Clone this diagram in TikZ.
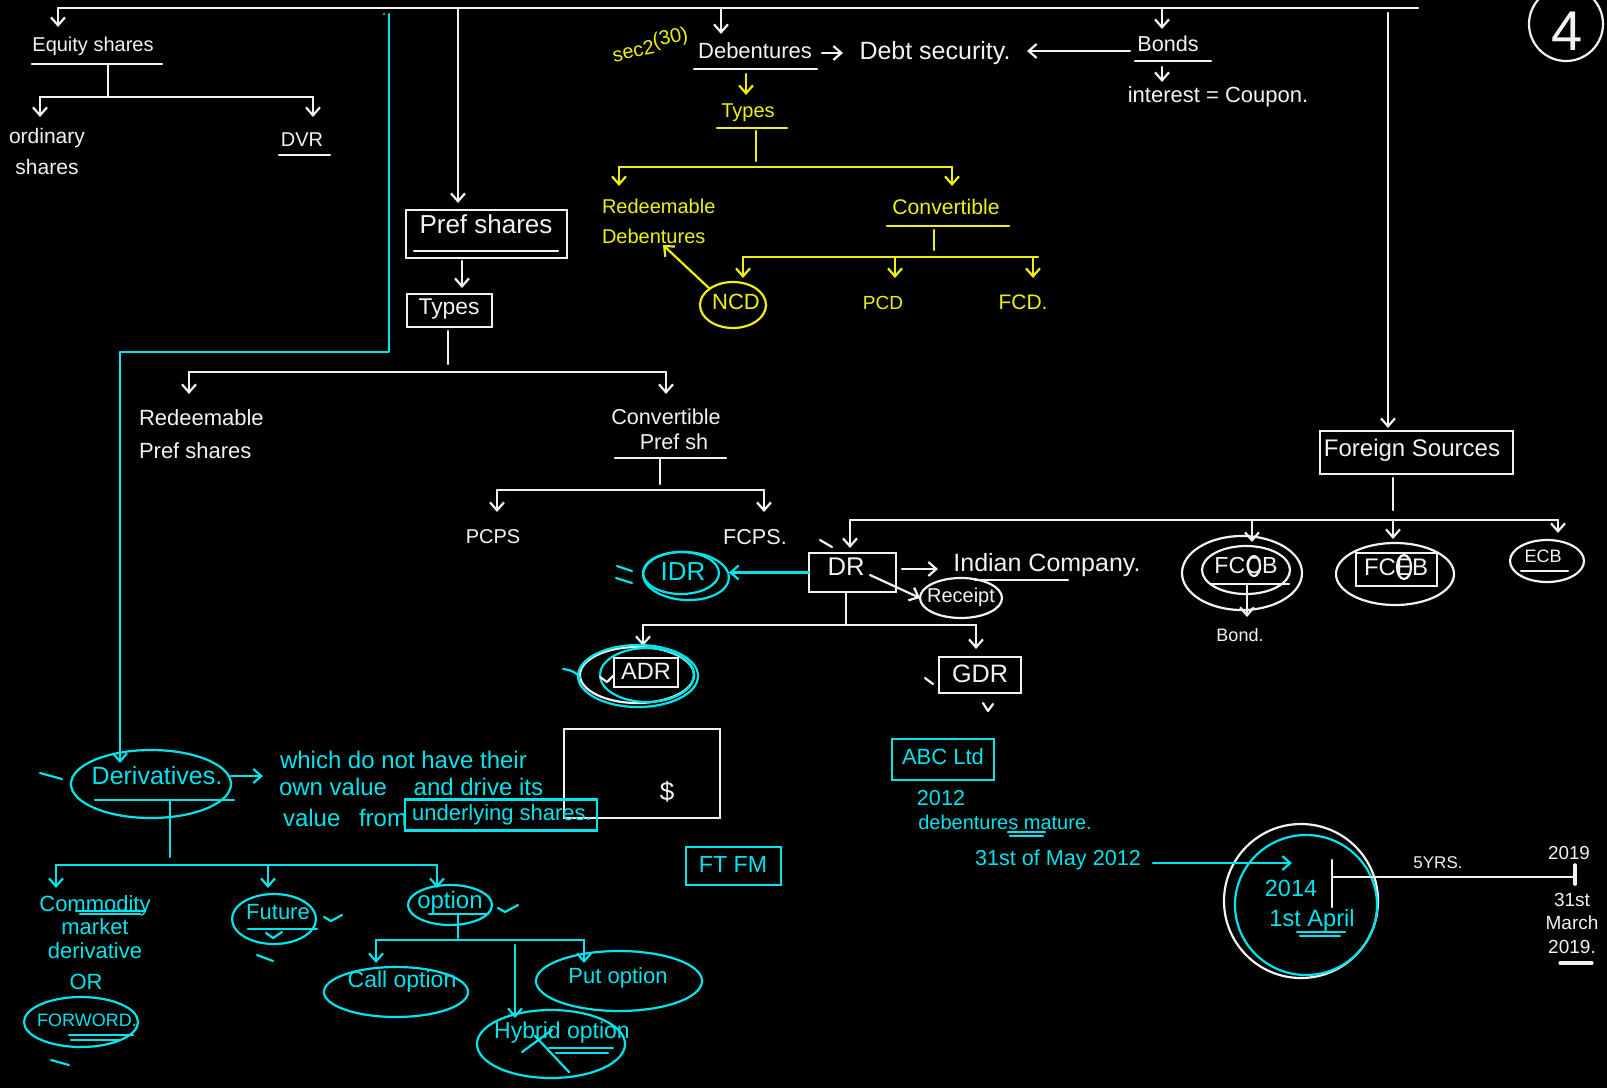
\documentclass[tikz,border=0pt]{standalone}
\usepackage{fontspec}
\setmainfont{Liberation Sans}
\usetikzlibrary{arrows.meta,shapes.geometric,calc}
\definecolor{inkw}{RGB}{242,242,242}
\definecolor{inkc}{RGB}{0,228,236}
\definecolor{inky}{RGB}{240,240,16}
\begin{document}
\begin{tikzpicture}[x=0.5pt,y=-0.5pt,
  every node/.style={inner sep=0pt,outer sep=0pt},
  ln/.style={line width=1.1pt,line cap=round,line join=round},
  wl/.style={ln,draw=inkw}, cl/.style={ln,draw=inkc}, yl/.style={ln,draw=inky},
  arr/.style={-{Straight Barb[length=4pt,width=7pt]}},
  fs/.style={font=\fontsize{#1}{#1}\selectfont},
  wt/.style={text=inkw}, ct/.style={text=inkc}, yt/.style={text=inky},
  wbx/.style={rectangle,draw=inkw,line width=1.1pt},
  cbx/.style={rectangle,draw=inkc,line width=1.1pt},
  wov/.style={ellipse,draw=inkw,line width=1.1pt},
  cov/.style={ellipse,draw=inkc,line width=1.1pt},
  yov/.style={ellipse,draw=inky,line width=1.1pt}]
\useasboundingbox (0,0) rectangle (1607,1088);
\clip (0,0) rectangle (1607,1088);
\fill[black] (0,0) rectangle (1607,1088);

% ---------- main rail ----------
\coordinate (railL) at (58,8);
\coordinate (railR) at (1418,8);
\draw[wl] (railL) -- (railR);

% ---------- equity shares ----------
\node[wt,fs=10] (eq) at (93,46) {Equity shares};
\draw[wl,arr] (railL) -- (58,27);
\draw[wl] (32,64) -- (162,64);
\coordinate (eqbarL) at (40,97); \coordinate (eqbarR) at (313,97);
\draw[wl] (108,64) -- (108,97);
\draw[wl] (eqbarL) -- (eqbarR);
\node[wt,font=\fontsize{10.5}{15.5}\selectfont,align=center] (ord) at (47,151) {ordinary\\shares};
\node[wt,fs=10] (dvr) at (302,140) {DVR};
\draw[wl,arr] (eqbarL) -- (40,117);
\draw[wl,arr] (eqbarR) -- (313,117);
\draw[wl] (279,155) -- (330,155);

% ---------- preference shares ----------
\draw[wl,arr] (458,8) -- (458,203);
\node[wbx,minimum width=80.5pt,minimum height=24pt] (prefbox) at (486.5,234) {};
\node[wt,fs=13] (pref) at (486,224) {Pref shares};
\draw[wl] (414,251) -- (558,251);
\node[wbx,minimum width=42.5pt,minimum height=16.5pt] (ptypes) at (449.5,310.5) {};
\node[wt,fs=11.4] (ptypestx) at (449,309) {Types};
\draw[wl,arr] (462,261) -- (462,288);
\coordinate (pbarL) at (189,372); \coordinate (pbarR) at (666,372);
\draw[wl] (448,331) -- (448,364);
\draw[wl] (pbarL) -- (pbarR);
\draw[wl,arr] (pbarL) -- (189,394);
\draw[wl,arr] (pbarR) -- (666,394);
\node[wt,font=\fontsize{11}{16.5}\selectfont,align=left,anchor=west] (rps) at (139,434) {Redeemable\\Pref shares};
\node[wt,font=\fontsize{10.8}{12.5}\selectfont,align=center] (cps) at (666,429) {Convertible\\\hspace*{8pt}Pref sh};
\draw[wl] (615,458) -- (726,458);
\coordinate (cbarL) at (497,490); \coordinate (cbarR) at (764,490);
\draw[wl] (660,458) -- (660,484);
\draw[wl] (cbarL) -- (cbarR);
\draw[wl,arr] (cbarL) -- (497,512);
\draw[wl,arr] (cbarR) -- (764,512);
\node[wt,fs=10] (pcps) at (493,537) {PCPS};
\node[wt,fs=10.8] (fcps) at (755,537) {FCPS.};
\draw[wl] (820,540) -- (832,547);

% ---------- debentures ----------
\node[wt,fs=11] (deb) at (755,51) {Debentures};
\draw[wl] (694,69) -- (817,69);
\draw[wl,arr] (721,8) -- (721,34);
\node[wt,fs=12.5] (debt) at (935,53) {Debt security.};
\draw[wl,arr] (822,53) -- (843,53);
\node[wt,fs=10.8] (bonds) at (1168,44) {Bonds};
\draw[wl] (1135,61) -- (1211,61);
\draw[wl,arr] (1162,8) -- (1162,29);
\draw[wl,arr] (1130,51) -- (1027,51);
\draw[wl,arr] (1162,67) -- (1162,82);
\node[wt,fs=11] (coupon) at (1218,97) {interest = Coupon.};

\node[yt,fs=10,rotate=12] (sec) at (650,44) {sec2\raisebox{3pt}{(30)}};
\draw[yl,arr] (746,74) -- (746,95);
\node[yt,fs=10] (dtypes) at (748,113) {Types};
\draw[yl] (717,128) -- (787,128);
\coordinate (dbarL) at (619,167); \coordinate (dbarR) at (952,167);
\draw[yl] (756,131) -- (756,161);
\draw[yl] (dbarL) -- (dbarR);
\draw[yl,arr] (dbarL) -- (619,186);
\draw[yl,arr] (dbarR) -- (952,186);
\node[yt,font=\fontsize{10}{15}\selectfont,align=left,anchor=west] (rdeb) at (602,221) {Redeemable\\Debentures};
\node[yt,fs=10.6] (conv) at (946,207) {Convertible};
\draw[yl] (887,226) -- (1009,226);
\coordinate (vbarL) at (743,257); \coordinate (vbarR) at (1038,257);
\draw[yl] (934,230) -- (934,250);
\draw[yl] (vbarL) -- (vbarR);
\draw[yl,arr] (vbarL) -- (743,278);
\draw[yl,arr] (895,257) -- (895,278);
\draw[yl,arr] (1033,257) -- (1033,278);
\node[yov,minimum width=33pt,minimum height=23pt] (ncdov) at (733,305) {};
\node[yt,fs=11] (ncd) at (736,302) {NCD};
\draw[yl,arr] (ncdov.north west) -- (663,245);
\node[yt,fs=9.5] (pcd) at (883,303) {PCD};
\node[yt,fs=10.5] (fcd) at (1023,302) {FCD.};

% ---------- foreign sources ----------
\draw[wl,arr] (1388,13) -- (1388,428);
\node[wbx,minimum width=96.5pt,minimum height=21.5pt] (forbox) at (1416.5,452.5) {};
\node[wt,fs=12] (foreign) at (1412,450) {Foreign Sources};
\coordinate (fbarL) at (850,520); \coordinate (fbarR) at (1558,520);
\draw[wl] (1393,478) -- (1393,510);
\draw[wl] (fbarL) -- (fbarR);
\draw[wl,arr] (fbarL) -- (850,548);
\draw[wl,arr] (1252,520) -- (1252,542);
\draw[wl,arr] (1393,520) -- (1393,539);
\draw[wl,arr] (fbarR) -- (1558,533);

\node[wov,minimum width=60pt,minimum height=37pt] (fccbout) at (1242,573) {};
\node[wov,minimum width=44pt,minimum height=24pt] (fccbin) at (1246,570) {};
\node[wt,fs=11.6] (fccb) at (1246,566) {FCCB};
\node[wov,minimum width=6pt,minimum height=10pt] (fccbc) at (1254,566) {};
\draw[wl] (1211,584) -- (1289,584);
\draw[wl,arr] (1247,584) -- (1247,617);
\node[wt,fs=9] (bond) at (1240,635) {Bond.};

\node[wov,minimum width=59pt,minimum height=31pt] (fcebout) at (1395,574) {};
\node[wbx,minimum width=40.5pt,minimum height=16.5pt] (fcebbox) at (1396.5,569.5) {};
\node[wt,fs=12] (fceb) at (1396,567) {FCEB};
\node[wov,minimum width=7pt,minimum height=12pt] (fcebe) at (1404,567) {};

\node[wov,minimum width=37pt,minimum height=21pt] (ecbov) at (1547,561) {};
\node[wt,fs=9] (ecb) at (1543,556) {ECB};
\draw[wl] (1521,571) -- (1568,571);

% ---------- depository receipts ----------
\node[wbx,minimum width=43.5pt,minimum height=19.5pt] (drbox) at (852.5,572.5) {};
\node[wt,fs=12.8] (dr) at (846,567) {DR};
\draw[wl,arr] (902,569) -- (938,569);
\node[wt,fs=12.5] (indian) at (1047,565) {Indian Company.};
\draw[wl] (975,580) -- (1068,580);
\node[wov,minimum width=41pt,minimum height=20pt] (recov) at (961,598) {};
\node[wt,fs=10] (receipt) at (961,597) {Receipt};
\draw[wl,arr] (870,575) -- (recov.west);
\coordinate (rbarL) at (643,625); \coordinate (rbarR) at (976,625);
\draw[wl] (846,592) -- (846,624);
\draw[wl] (rbarL) -- (rbarR);
\draw[wl,arr] (rbarL) -- (643,646);
\draw[wl,arr] (rbarR) -- (976,649);
\node[wbx,minimum width=41pt,minimum height=18pt] (gdrbox) at (980,675) {};
\node[wt,fs=12.6] (gdr) at (980,674) {GDR};
\draw[wl] (925,678) -- (933,684);
\draw[wl] (983,703) -- (988,711) -- (993,704);

\node[cov,minimum width=38pt,minimum height=21pt] (idrov) at (681,573) {};
\node[cov,minimum width=43pt,minimum height=24pt,rotate=-3] (idrov2) at (686,576) {};
\node[ct,fs=13] (idr) at (683,572) {IDR};
\draw[cl,arr] (drbox.west) -- (drbox.west -| idrov2.east);
\draw[cl] (617,566) -- (632,571);
\draw[cl] (616,578) -- (632,583);

\node[wov,minimum width=57pt,minimum height=28pt] (adrov) at (637,675) {};
\node[cov,minimum width=60pt,minimum height=31pt] (adrov2) at (638,676) {};
\node[cov,minimum width=47pt,minimum height=27pt] (adrov3) at (647,675) {};
\node[wbx,minimum width=32pt,minimum height=14.5pt] (adrbox) at (646,672.5) {};
\node[wt,fs=11.8] (adr) at (646,671) {ADR};
\draw[cl] (563,669) .. controls (572,670) and (577,673) .. (580,678);
\draw[wl] (600,677) -- (607,682) -- (613,676);

% ---------- loose notes ----------
\node[wbx,minimum width=78pt,minimum height=44.5pt] (cashbox) at (642,773.5) {};
\node[wt,fs=13] (dollar) at (667,792) {\$};
\node[cbx,minimum width=47.5pt,minimum height=19pt] (ftfmbox) at (733.5,866) {};
\node[ct,fs=11.6] (ftfm) at (733,865) {FT FM};
\node[cbx,minimum width=51pt,minimum height=20.5pt] (abcbox) at (943,759.5) {};
\node[ct,fs=11] (abc) at (943,757) {ABC Ltd};
\node[ct,fs=10.8] (y2012) at (941,798) {2012};
\node[ct,fs=10] (mature) at (1005,822) {debentures mature.};
\draw[cl] (1008,832) -- (1045,832);
\draw[cl] (1010,836) -- (1043,836);
\node[ct,fs=10.8] (may) at (1058,860) {31st of May 2012};

% ---------- maturity timeline ----------
\node[circle,draw=inkw,line width=1.1pt,minimum size=77pt] (wcirc) at (1301,901) {};
\node[cov,minimum width=71pt,minimum height=70pt] (ccirc) at (1306,905) {};
\draw[cl,arr] (1153,863) -- (1292,863);
\node[ct,fs=11.7] (y2014) at (1291,888) {2014};
\node[ct,fs=11.8] (april) at (1312,920) {1st April};
\draw[cl] (1297,932) -- (1345,932);
\draw[cl] (1300,936) -- (1340,936);
\coordinate (tlS) at (1332,877); \coordinate (tlE) at (1575,877);
\draw[wl] (1332,860) -- (1332,907);
\draw[wl] (tlS) -- (tlE);
\draw[wl,line width=1.8pt] (1575,865) -- (1575,884);
\node[wt,fs=8.5] (yrs) at (1438,863) {5YRS.};
\node[wt,fs=9.4] (y2019) at (1569,853) {2019};
\node[wt,font=\fontsize{9.5}{11.75}\selectfont,align=center] (march) at (1572,923) {31st\\March\\2019.};
\draw[wl,line width=1.6pt] (1560,963) -- (1592,963);

% ---------- page number ----------
\node[circle,draw=inkw,line width=1.1pt,minimum size=37pt] (pgcirc) at (1566,24) {};
\node[wt,fs=28] (pg) at (1567,31) {4};

% ---------- derivatives ----------
\fill[inkc] (384,14) circle (1.2);
\draw[cl,arr] (389,14) -- (389,352) -- (120,352) -- (120,763);
\node[cov,minimum width=80pt,minimum height=34pt] (derov) at (151,784) {};
\node[ct,fs=12.5] (deriv) at (157,776) {Derivatives.};
\draw[cl] (95,800) -- (234,800);
\draw[cl] (40,773) -- (62,779);
\draw[cl,arr] ([yshift=4pt]derov.east) -- ++(32,0);
\node[ct,fs=12,anchor=west] (def1) at (280,760) {which do not have their};
\node[ct,fs=12,anchor=west] (def2) at (279,787) {own value\hspace{10pt} and drive its};
\node[ct,fs=12,anchor=west] (def3) at (283,818) {value\hspace{6pt} from};
\node[cbx,minimum width=96pt,minimum height=15.5pt] (ulbox) at (501,815) {};
\node[ct,fs=11] (ul) at (502,815) {underlying shares.};

\coordinate (vbar1) at (56,865); \coordinate (vbar2) at (437,865);
\draw[cl] (170,800) -- (170,857);
\draw[cl] (vbar1) -- (vbar2);
\draw[cl,arr] (vbar1) -- (56,888);
\draw[cl,arr] (268,865) -- (268,888);
\draw[cl,arr] (vbar2) -- (437,888);

\node[ct,font=\fontsize{11}{11.75}\selectfont,align=center] (comm) at (95,927) {Commodity\\market\\derivative};
\draw[cl] (76,911) -- (145,911);
\draw[cl] (80,914) -- (140,914);
\node[ct,fs=11] (orw) at (86,982) {OR};
\node[cov,minimum width=57pt,minimum height=25pt] (fwdov) at (81,1022) {};
\node[ct,fs=9] (fwd) at (87,1020) {FORWORD.};
\draw[cl] (69,1035) -- (133,1035);
\draw[cl] (71,1040) -- (119,1040);
\draw[cl] (51,1060) -- (69,1065);

\node[cov,minimum width=42pt,minimum height=25pt] (futov) at (274,919) {};
\node[ct,fs=11] (fut) at (278,912) {Future};
\draw[cl] (248,929) -- (317,929);
\draw[cl] (266,933) -- (273,938) -- (282,932);
\draw[cl] (324,917) -- (331,921) -- (342,915);
\draw[cl] (257,955) -- (273,961);

\node[cov,minimum width=42pt,minimum height=20pt] (optov) at (450,905) {};
\node[ct,fs=12] (opt) at (450,902) {option};
\draw[cl] (429,914) -- (488,914);
\draw[cl] (498,908) -- (505,912) -- (518,905);
\coordinate (obarL) at (376,940); \coordinate (obarR) at (584,940);
\draw[cl] (458,914) -- (458,938);
\draw[cl] (obarL) -- (obarR);
\draw[cl,arr] (obarL) -- (376,963);
\draw[cl,arr] (obarR) -- (584,963);
\draw[cl,arr] (515,945) -- (515,1018);

\node[cov,minimum width=72pt,minimum height=25pt] (callov) at (396,992) {};
\node[ct,fs=11.5] (call) at (402,982) {Call option};
\node[cov,minimum width=83pt,minimum height=30pt] (putov) at (619,981) {};
\node[ct,fs=11] (put) at (618,978) {Put option};
\node[cov,minimum width=74pt,minimum height=34pt] (hybov) at (551,1044) {};
\node[ct,fs=11.5] (hyb) at (562,1033) {Hybrid option};
\draw[cl] (522,1052) -- (552,1030);
\draw[cl] (535,1036) -- (569,1072);
\draw[cl] (549,1048) -- (613,1048);
\draw[cl] (556,1053) -- (608,1053);
\end{tikzpicture}
\end{document}
